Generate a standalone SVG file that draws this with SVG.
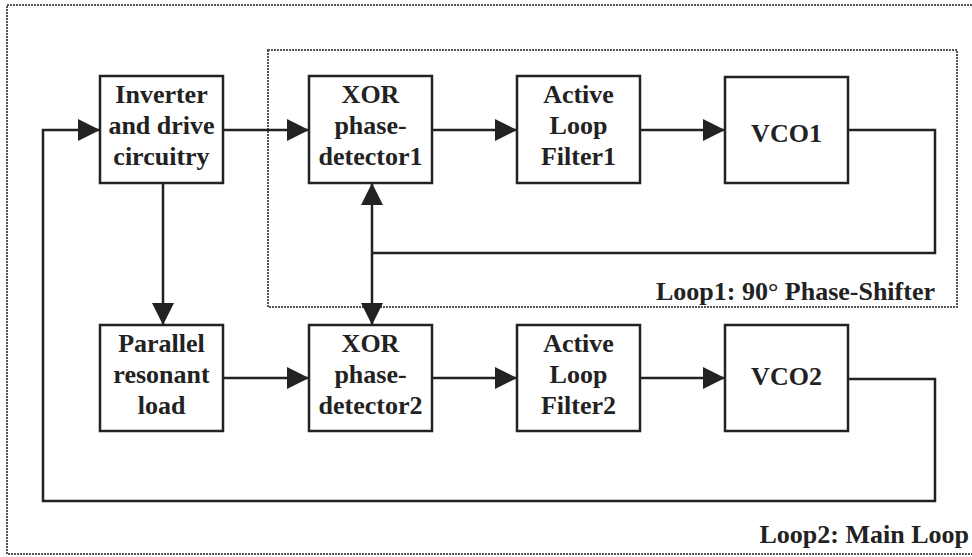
<svg xmlns="http://www.w3.org/2000/svg" width="972" height="557" viewBox="0 0 972 557">
  <style>
    .frame { fill: none; stroke: #555; stroke-width: 2; stroke-dasharray: 2 1; }
    .box { fill: #fff; stroke: #222; stroke-width: 2.5; }
    .wire { fill: none; stroke: #222; stroke-width: 2.5; }
    .lbl { font-family: "Liberation Serif", "Times New Roman", serif; font-weight: bold; font-size: 26px; fill: #222; text-anchor: middle; }
    .cap { font-family: "Liberation Serif", "Times New Roman", serif; font-weight: bold; font-size: 26px; fill: #222; text-anchor: end; }
  </style>
  <defs>
    <marker id="arrow" markerUnits="userSpaceOnUse" markerWidth="22" markerHeight="22" viewBox="0 0 20 20" refX="20" refY="10" orient="auto-start-reverse">
      <path d="M0,0 L20,10 L0,20 Z" fill="#222"/>
    </marker>
  </defs>

  <rect width="972" height="557" fill="#fff"/>

  <!-- loop frames -->
  <g id="loop2-frame">
    <rect class="frame" x="7" y="5" width="975" height="549"/>
    <text class="cap" x="969" y="543">Loop2: Main Loop</text>
  </g>
  <g id="loop1-frame">
    <rect class="frame" x="268" y="50" width="689" height="257"/>
    <text class="cap" x="935" y="300">Loop1: 90° Phase-Shifter</text>
  </g>

  <!-- connectors -->
  <g id="connectors">
    <path class="wire" d="M223,130 H309" marker-end="url(#arrow)"/>
    <path class="wire" d="M432,130 H517" marker-end="url(#arrow)"/>
    <path class="wire" d="M640,130 H725" marker-end="url(#arrow)"/>
    <path class="wire" d="M848,130 H935 V253 H372"/>
    <path class="wire" d="M372,183 V325" marker-start="url(#arrow)" marker-end="url(#arrow)"/>
    <path class="wire" d="M163,183 V325" marker-end="url(#arrow)"/>
    <path class="wire" d="M223,378 H309" marker-end="url(#arrow)"/>
    <path class="wire" d="M432,378 H517" marker-end="url(#arrow)"/>
    <path class="wire" d="M640,378 H725" marker-end="url(#arrow)"/>
    <path class="wire" d="M848,379 H935 V501 H43 V130 H100" marker-end="url(#arrow)"/>
  </g>

  <!-- top row -->
  <g id="inverter">
    <rect class="box" x="100" y="76" width="123" height="107"/>
    <text class="lbl" x="161.5" y="103">Inverter</text>
    <text class="lbl" x="161.5" y="134">and drive</text>
    <text class="lbl" x="161.5" y="165">circuitry</text>
  </g>
  <g id="xor1">
    <rect class="box" x="309" y="76" width="123" height="107"/>
    <text class="lbl" x="370.5" y="103">XOR</text>
    <text class="lbl" x="370.5" y="134">phase-</text>
    <text class="lbl" x="370.5" y="165">detector1</text>
  </g>
  <g id="filter1">
    <rect class="box" x="517" y="76" width="123" height="107"/>
    <text class="lbl" x="578.5" y="103">Active</text>
    <text class="lbl" x="578.5" y="134">Loop</text>
    <text class="lbl" x="578.5" y="165">Filter1</text>
  </g>
  <g id="vco1">
    <rect class="box" x="725" y="77" width="123" height="106"/>
    <text class="lbl" x="786.5" y="142">VCO1</text>
  </g>

  <!-- bottom row -->
  <g id="load">
    <rect class="box" x="100" y="325" width="123" height="106"/>
    <text class="lbl" x="161.5" y="352">Parallel</text>
    <text class="lbl" x="161.5" y="383">resonant</text>
    <text class="lbl" x="161.5" y="414">load</text>
  </g>
  <g id="xor2">
    <rect class="box" x="309" y="325" width="123" height="106"/>
    <text class="lbl" x="370.5" y="352">XOR</text>
    <text class="lbl" x="370.5" y="383">phase-</text>
    <text class="lbl" x="370.5" y="414">detector2</text>
  </g>
  <g id="filter2">
    <rect class="box" x="517" y="325" width="123" height="106"/>
    <text class="lbl" x="578.5" y="352">Active</text>
    <text class="lbl" x="578.5" y="383">Loop</text>
    <text class="lbl" x="578.5" y="414">Filter2</text>
  </g>
  <g id="vco2">
    <rect class="box" x="725" y="325" width="123" height="106"/>
    <text class="lbl" x="786.5" y="385">VCO2</text>
  </g>
</svg>
